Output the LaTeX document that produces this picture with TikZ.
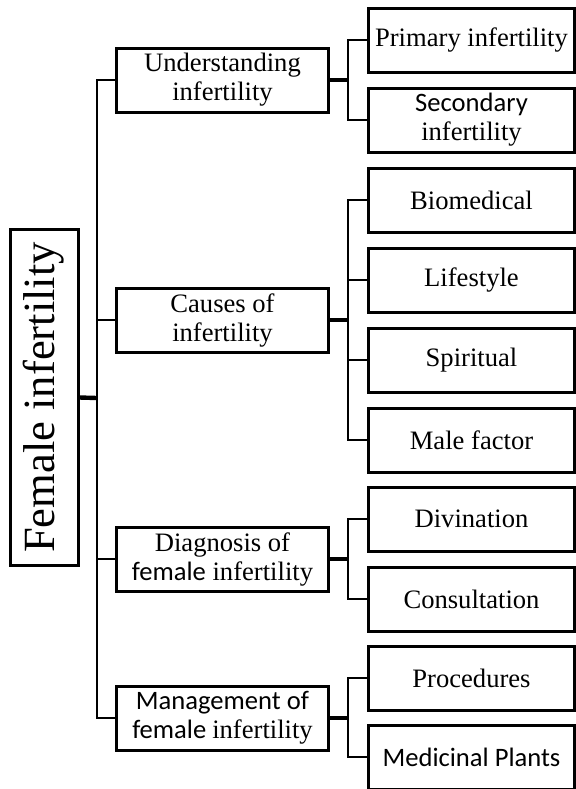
\documentclass[tikz,border=0pt]{standalone}
\usepackage{fontspec}
\setmainfont{Liberation Serif}
\newfontfamily\calfont{Carlito}
\tikzset{
  box/.style={draw, line width=1.5pt, align=center, inner sep=1pt,
    minimum height=32pt, font=\fontsize{13.3}{14.5}\selectfont},
  topic/.style={box, minimum width=106pt},
  leaf/.style={box, minimum width=103pt},
  link/.style={line width=1pt},
  stub/.style={line width=2.2pt}
}
\begin{document}
\begin{tikzpicture}[x=0.5pt, y=-0.5pt]
  \useasboundingbox (0,0) rectangle (576,789);
  % root
  \node[box, rotate=90, minimum width=168pt, minimum height=34pt,
    font=\fontsize{22.3}{24}\selectfont] (root) at (44,397.5) {Female infertility};
  % topics
  \node[topic] (und) at (222.5,80) {Understanding\\infertility};
  \node[topic] (caus) at (222.5,320) {Causes of\\infertility};
  \node[topic] (diag) at (222.5,559) {Diagnosis of\\{\calfont female} infertility};
  \node[topic] (mgmt) at (222.5,718) {\calfont Management of\\\calfont female {\rmfamily infertility}};
  % leaves
  \node[leaf] (prim) at (471.5,40) {Primary infertility};
  \node[leaf] (sec) at (471.5,120) {{\calfont Secondary}\\infertility};
  \node[leaf] (bio) at (471.5,200) {Biomedical};
  \node[leaf] (life) at (471.5,280) {Lifestyle};
  \node[leaf] (spir) at (471.5,360) {Spiritual};
  \node[leaf] (male) at (471.5,440) {Male factor};
  \node[leaf] (div) at (471.5,519) {Divination};
  \node[leaf] (cons) at (471.5,599) {Consultation};
  \node[leaf] (proc) at (471.5,678) {Procedures};
  \node[leaf] (med) at (471.5,757) {\calfont Medicinal Plants};
  % trunk
  \coordinate (trunk) at (97,398);
  \draw[stub] (root.south) -- (trunk);
  \draw[link] (und.west) -| (trunk) |- (mgmt.west);
  \draw[link] (trunk |- caus.west) -- (caus.west);
  \draw[link] (trunk |- diag.west) -- (diag.west);
  % branches
  \coordinate (ju) at (348,80);
  \coordinate (jc) at (348,320);
  \coordinate (jd) at (348,559);
  \coordinate (jm) at (348,718);
  \draw[stub] (und.east) -- (ju);
  \draw[stub] (caus.east) -- (jc);
  \draw[stub] (diag.east) -- (jd);
  \draw[stub] (mgmt.east) -- (jm);
  \draw[link] (prim.west) -| (ju) |- (sec.west);
  \draw[link] (bio.west) -| (jc) |- (male.west);
  \draw[link] (jc |- life.west) -- (life.west);
  \draw[link] (jc |- spir.west) -- (spir.west);
  \draw[link] (div.west) -| (jd) |- (cons.west);
  \draw[link] (proc.west) -| (jm) |- (med.west);
\end{tikzpicture}
\end{document}
